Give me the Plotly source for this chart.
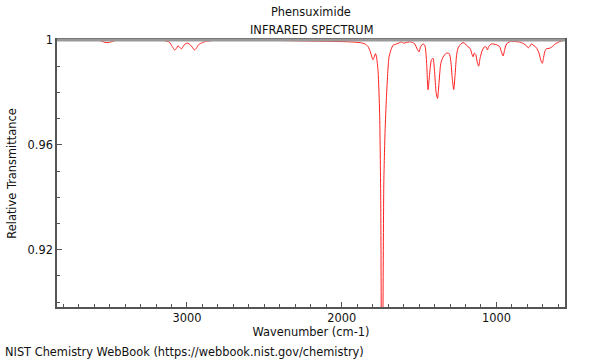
import plotly.graph_objects as go

title_name = "Phensuximide"
title_kind = "INFRARED SPECTRUM"
x_title = "Wavenumber (cm-1)"
y_title = "Relative Transmittance"
footer = "NIST Chemistry WebBook (https://webbook.nist.gov/chemistry)"

wavenumber = [
    3840, 3700, 3600, 3560, 3530, 3510, 3490, 3460, 3400, 3250, 3150, 3115, 3095, 3080,
    3068, 3058, 3047, 3036, 3025, 3010, 2995, 2980, 2965, 2952, 2940, 2925, 2900, 2875,
    2830, 2700, 2500, 2300, 2100, 1950, 1880, 1850, 1830, 1815, 1805, 1798, 1790, 1782,
    1775, 1765, 1755, 1748, 1742, 1738, 1733, 1728, 1720, 1711, 1702, 1694, 1680, 1668,
    1646, 1625, 1614, 1600, 1585, 1560, 1540, 1528, 1512, 1500, 1490, 1475, 1463, 1452,
    1442, 1432, 1420, 1410, 1400, 1390, 1381, 1372, 1360, 1345, 1323, 1305, 1295, 1285,
    1276, 1267, 1258, 1248, 1230, 1216, 1200, 1186, 1170, 1158, 1151, 1143, 1134, 1124,
    1115, 1106, 1091, 1075, 1065, 1058, 1050, 1032, 1000, 980, 968, 957, 948, 935, 915,
    903, 880, 849, 825, 806, 795, 785, 775, 765, 750, 741, 725, 712, 703, 695, 685, 677,
    660, 645, 620, 590, 570, 557,
]
transmittance = [
    1.0, 1.0, 0.9999, 0.9997, 0.9991, 0.9990, 0.9993, 0.9998, 1.0, 1.0, 0.9998, 0.9992,
    0.9975, 0.9962, 0.9968, 0.9978, 0.9972, 0.9966, 0.9975, 0.9986, 0.9988, 0.9982,
    0.9972, 0.9962, 0.9968, 0.9982, 0.9990, 0.9995, 0.9998, 1.0, 0.9999, 0.9997, 0.9995,
    0.9993, 0.9990, 0.9985, 0.9975, 0.9955, 0.9935, 0.9925, 0.9935, 0.9948, 0.9935,
    0.9880, 0.9720, 0.9400, 0.8700, 0.8600, 0.9000, 0.9450, 0.9650, 0.9780, 0.9880,
    0.9936, 0.9965, 0.9980, 0.9985, 0.9990, 0.9993, 0.9988, 0.9990, 0.9993, 0.9990,
    0.9985, 0.9965, 0.9955, 0.9975, 0.9985, 0.9980, 0.9920, 0.9810, 0.9870, 0.9925,
    0.9930, 0.9880, 0.9800, 0.9777, 0.9830, 0.9910, 0.9935, 0.9950, 0.9948, 0.9920,
    0.9850, 0.9811, 0.9870, 0.9940, 0.9970, 0.9985, 0.9990, 0.9985, 0.9975, 0.9968,
    0.9945, 0.9936, 0.9950, 0.9945, 0.9915, 0.9900, 0.9930, 0.9962, 0.9975, 0.9972,
    0.9962, 0.9975, 0.9985, 0.9982, 0.9975, 0.9955, 0.9939, 0.9960, 0.9985, 0.9993,
    0.9995, 0.9994, 0.9992, 0.9986, 0.9978, 0.9970, 0.9975, 0.9985, 0.9982, 0.9975,
    0.9970, 0.9950, 0.9920, 0.9911, 0.9935, 0.9960, 0.9967, 0.9968, 0.9972, 0.9985,
    0.9994, 0.9998, 1.0,
]

font = "DejaVu Sans"
fs = 11.4
fig = go.Figure()
fig.add_trace(go.Scatter(
    x=wavenumber, y=transmittance, mode="lines",
    line=dict(color="#ff2020", width=1, shape="spline", smoothing=0.6),
    hoverinfo="skip", showlegend=False,
))

fig.update_layout(
    width=600, height=360,
    margin=dict(l=57, r=35, t=40, b=53),
    paper_bgcolor="white", plot_bgcolor="white",
    font=dict(family=font, size=fs, color="#111"),
    showlegend=False,
)
fig.update_xaxes(
    range=[3840, 557], showgrid=False, zeroline=False,
    showline=True, linecolor="#555", linewidth=1.5, mirror=True,
    ticks="inside", ticklen=5, tickcolor="#555", tickwidth=1,
    tickvals=[3000, 2000, 1000],
    minor=dict(dtick=100, tick0=0, ticks="inside", ticklen=3, tickcolor="#555", showgrid=False),
    title=dict(text=x_title, standoff=3, font=dict(size=fs)),
    tickfont=dict(size=fs),
)
fig.update_yaxes(
    range=[0.8981, 1.0], showgrid=False, zeroline=False,
    showline=True, linecolor="#555", linewidth=1.5, mirror=True,
    ticks="inside", ticklen=5, tickcolor="#555", tickwidth=1,
    tickvals=[0.92, 0.96, 1.0],
    minor=dict(dtick=0.01, tick0=0, ticks="inside", ticklen=3, tickcolor="#555", showgrid=False),
    title=dict(text=y_title, standoff=9, font=dict(size=fs)),
    tickfont=dict(size=fs),
)
fig.add_shape(type="line", xref="paper", yref="paper", x0=0, x1=1, y0=1, y1=1,
              line=dict(color="#999", width=3), layer="above")

fig.add_annotation(text=title_name, xref="paper", yref="paper", x=0.5, y=1,
                   yshift=28, showarrow=False, xanchor="center", yanchor="middle",
                   font=dict(size=fs, color="#111"))
fig.add_annotation(text=title_kind, xref="paper", yref="paper", x=0.5, y=1,
                   yshift=10, showarrow=False, xanchor="center", yanchor="middle",
                   font=dict(size=fs, color="#111"))
fig.add_annotation(text=footer, xref="paper", yref="paper", x=0, y=0,
                   xshift=-54, yshift=-45, showarrow=False, xanchor="left", yanchor="middle",
                   font=dict(size=fs, color="#111"))

fig.write_html("out.html", config={"displayModeBar": False},
               post_script="document.body.style.margin='0';")
